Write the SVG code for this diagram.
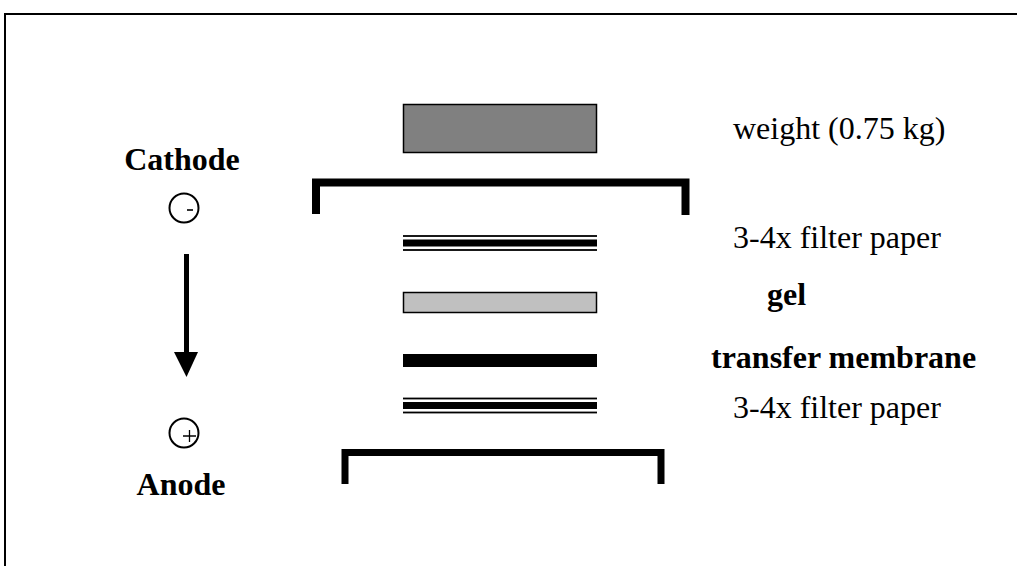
<svg xmlns="http://www.w3.org/2000/svg" width="1017" height="566" viewBox="0 0 1017 566">
  <style>
    .lbl { font-family: "Liberation Serif", "Times New Roman", serif; font-size: 32px; fill: #000; }
    .b { font-weight: bold; }
    .bar { fill: #000; }
    .pole { fill: none; stroke: #000; stroke-width: 2; }
  </style>
  <defs>
    <!-- stack of filter paper sheets: two thin rules around a thick band -->
    <g id="filterStack">
      <rect x="403" y="-0.9" width="194" height="1.8" class="bar"/>
      <rect x="403" y="3.5" width="194" height="7" class="bar"/>
      <rect x="403" y="13.1" width="194" height="1.8" class="bar"/>
    </g>
  </defs>

  <rect width="1017" height="566" fill="#fff"/>
  <!-- frame -->
  <path d="M5 566 V14 H1017" fill="none" stroke="#000" stroke-width="2"/>

  <!-- electrodes -->
  <g id="cathode">
    <text class="lbl b" x="182" y="170" text-anchor="middle">Cathode</text>
    <circle class="pole" cx="184" cy="208" r="14.5"/>
    <line x1="187" y1="210" x2="193" y2="210" stroke="#000" stroke-width="1.6"/>
  </g>
  <g id="anode">
    <circle class="pole" cx="184" cy="433" r="14.5"/>
    <path d="M183 436 H196 M189.5 430 V442" stroke="#000" stroke-width="1.3"/>
    <text class="lbl b" x="181" y="495" text-anchor="middle">Anode</text>
  </g>

  <!-- current direction -->
  <g id="connectors">
    <rect x="184" y="254" width="5" height="100" class="bar"/>
    <polygon points="174,352 198,352 186.5,377" class="bar"/>
  </g>

  <!-- blotting stack -->
  <g id="weight">
    <rect x="403.5" y="104.5" width="193" height="48" fill="#808080" stroke="#000" stroke-width="1.5"/>
    <text class="lbl" x="733" y="139">weight (0.75 kg)</text>
  </g>
  <g id="upperPlate">
    <path d="M316 214 V182.5 H685.5 V215" fill="none" stroke="#000" stroke-width="8"/>
  </g>
  <g id="filterTop">
    <use href="#filterStack" y="236"/>
    <text class="lbl" x="733" y="248">3-4x filter paper</text>
  </g>
  <g id="gel">
    <rect x="403.5" y="292.5" width="193" height="20" fill="#c0c0c0" stroke="#000" stroke-width="1.5"/>
    <text class="lbl b" x="767" y="305">gel</text>
  </g>
  <g id="membrane">
    <rect x="403" y="354" width="194" height="13" class="bar"/>
    <text class="lbl b" x="711" y="368">transfer membrane</text>
  </g>
  <g id="filterBottom">
    <use href="#filterStack" y="398.5"/>
    <text class="lbl" x="733" y="418">3-4x filter paper</text>
  </g>
  <g id="lowerPlate">
    <path d="M345 484 V452.5 H661 V484" fill="none" stroke="#000" stroke-width="7"/>
  </g>
</svg>
